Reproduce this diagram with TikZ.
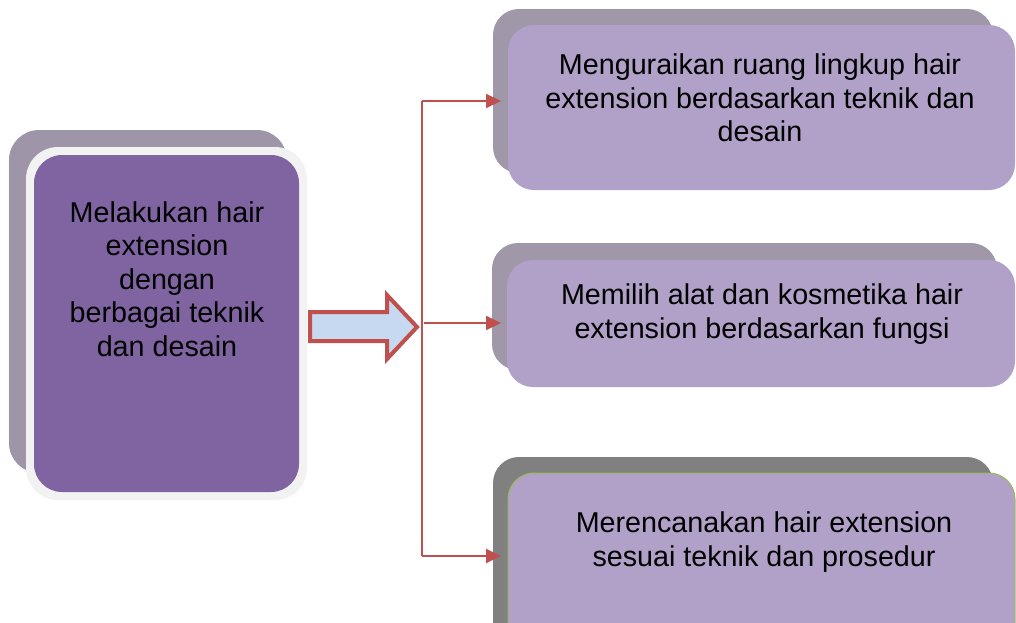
\documentclass[tikz,border=0pt]{standalone}
\usepackage{fontspec}
\setmainfont{Liberation Sans}
\usetikzlibrary{arrows.meta}
\definecolor{lshadow}{HTML}{9E96A8}
\definecolor{lfill}{HTML}{8064A2}
\definecolor{lborder}{HTML}{F2F2F2}
\definecolor{rfill}{HTML}{B1A0C7}
\definecolor{rshadow}{HTML}{A097A9}
\definecolor{dshadow}{HTML}{808080}
\definecolor{gborder}{HTML}{9BBB59}
\definecolor{redline}{HTML}{C0504D}
\definecolor{lightblue}{HTML}{C6D9F0}
\tikzset{
  box/.style={rounded corners=#1, inner sep=0pt, outer sep=0pt},
  txt/.style={font=\fontsize{28.7}{33.5}\selectfont, align=center, text=black, inner sep=0pt},
  conn/.style={draw=redline, line width=2pt},
  tip/.style={conn, -{Triangle[length=15pt,width=14pt]}, shorten >=7pt},
}
\begin{document}
\begin{tikzpicture}[x=1pt,y=-1pt]
\useasboundingbox (0,0) rectangle (1016,622);
\clip (0,0) rectangle (1016,622);
% left box
\fill[lshadow, box=30pt] (9,130) rectangle (287,473);
\fill[lborder, box=32pt] (26,147) rectangle (307,500);
\fill[lfill, box=28pt] (34,155) rectangle (299,492);
\node[txt] (L) at (167,279) {Melakukan hair\\extension\\dengan\\berbagai teknik\\dan desain};
% block arrow
\draw[redline, fill=lightblue, line width=4pt, miter limit=10]
  (310,312) -- (387,312) -- (387,295) -- (417,327) -- (387,359) -- (387,341) -- (310,341) -- cycle;
% right boxes
\fill[rshadow, box=26pt] (493,9) rectangle (993,173);
\fill[rfill, box=26pt] (508,25) rectangle (1015,190);
\node[txt] (A) at (760,98) {Menguraikan ruang lingkup hair\\extension berdasarkan teknik dan\\desain};
\coordinate (Aw) at (508,101);
\fill[rshadow, box=26pt] (492,243) rectangle (997,370);
\fill[rfill, box=26pt] (507,260) rectangle (1015,387);
\node[txt] (B) at (762,314) {Memilih alat dan kosmetika hair\\extension berdasarkan fungsi};
\coordinate (Bw) at (508,323);
\fill[dshadow, box=26pt] (493,457) rectangle (993,650);
\draw[gborder, fill=rfill, line width=1pt, box=26pt] (508,473) rectangle (1015,660);
\node[txt] (C) at (764,542) {Merencanakan hair extension\\sesuai teknik dan prosedur};
\coordinate (Cw) at (508,556);
% bracket
\coordinate (top) at (422,101);
\coordinate (mid) at (424,323);
\coordinate (bot) at (422,556);
\draw[conn] (top) -- (bot);
\draw[tip] (top) -- (Aw);
\draw[tip] (mid) -- (Bw);
\draw[tip] (bot) -- (Cw);
\end{tikzpicture}
\end{document}
